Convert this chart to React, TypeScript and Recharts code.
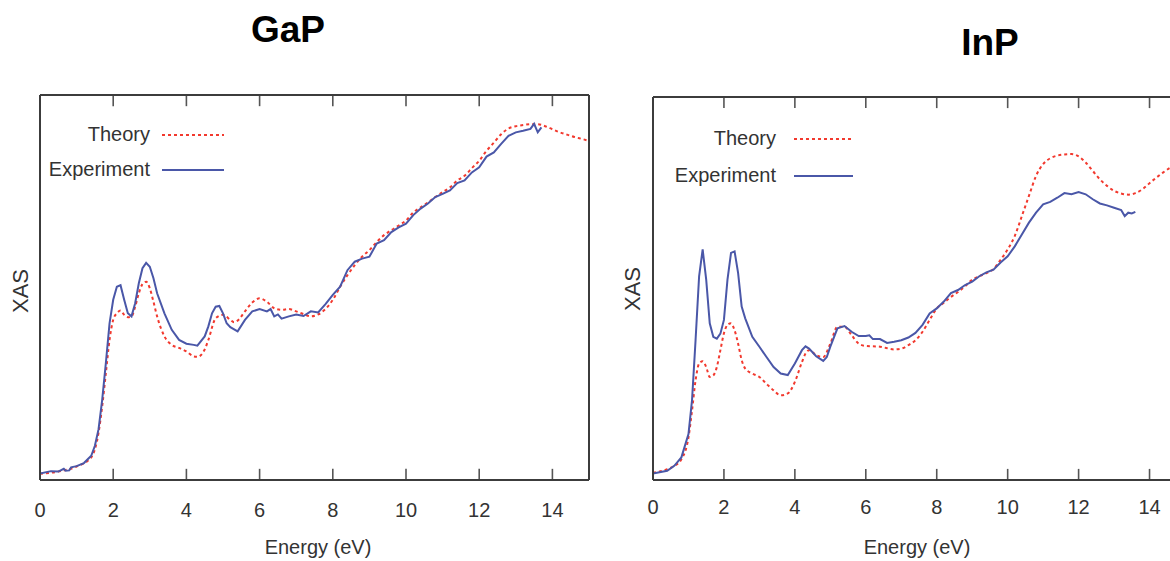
import { LineChart, Line, XAxis, YAxis, Legend, ReferenceLine } from 'recharts';

const ENERGY_TICKS = [0, 2, 4, 6, 8, 10, 12, 14];
const SERIES_ORDER = ['Theory', 'Experiment'];

// [energy (eV), XAS (arb. units)]
const GAP_THEORY: [number, number][] = [
  [0, 1.6], [0.5, 2.2], [1.0, 3.5], [1.4, 5.9], [1.6, 12.3], [1.7, 19.2], [1.8, 27.8], [1.9, 36.4],
  [2.0, 41.6], [2.1, 43.3], [2.2, 44], [2.3, 42.9], [2.4, 42.3], [2.5, 42.5], [2.6, 45], [2.7, 48.5],
  [2.8, 50.9], [2.9, 51.5], [3.0, 49.8], [3.1, 46.3], [3.2, 42.5], [3.4, 37.3], [3.6, 35.1], [3.8, 34.3],
  [4.0, 33.4], [4.2, 32.1], [4.3, 32], [4.5, 33.9], [4.6, 36.4], [4.8, 42], [5.0, 42.9], [5.2, 41.6],
  [5.3, 41], [5.4, 41.4], [5.6, 43.8], [5.8, 46.1], [6.0, 47.2], [6.2, 46.3], [6.4, 44.6], [6.6, 44.2],
  [6.8, 44.4], [7.0, 43.8], [7.2, 43.1], [7.4, 42.5], [7.6, 43], [7.8, 44.4], [8.0, 46.8], [8.2, 50.2],
  [8.4, 53.2], [8.6, 55.8], [8.8, 58], [9.0, 59.7], [9.2, 61.8], [9.4, 63.6], [9.6, 64.9], [9.8, 66.1],
  [10.0, 67.4], [10.2, 69.5], [10.4, 70.8], [10.6, 72.1], [10.8, 73.5], [11.0, 74.8], [11.2, 76],
  [11.4, 77.8], [11.6, 79], [11.8, 81], [12.0, 82.9], [12.2, 85.5], [12.4, 87.6], [12.6, 89.8],
  [12.8, 91.3], [13.0, 91.9], [13.2, 92.2], [13.4, 92.4], [13.6, 92.4], [13.8, 91.9], [14.0, 91.1],
  [14.2, 90.3], [14.4, 89.7], [14.6, 89.1], [14.8, 88.6], [15.0, 88.1],
];

const GAP_EXPERIMENT: [number, number][] = [
  [0, 1.7], [0.3, 2.3], [0.5, 2.2], [0.65, 2.9], [0.7, 2.4], [0.8, 2.5], [0.85, 3.3], [1.0, 3.6],
  [1.2, 4.4], [1.4, 6.3], [1.5, 8.9], [1.6, 13.2], [1.7, 20.9], [1.8, 30.4], [1.9, 40.7], [2.0, 46.8],
  [2.1, 50.2], [2.2, 50.6], [2.3, 46.8], [2.4, 43.3], [2.5, 42.5], [2.6, 45.9], [2.7, 51.1], [2.8, 55],
  [2.9, 56.4], [3.0, 55.4], [3.1, 52.4], [3.2, 48.5], [3.4, 43.3], [3.6, 39], [3.8, 36.4], [4.0, 35.4],
  [4.2, 35.1], [4.3, 34.9], [4.5, 37.3], [4.6, 39.9], [4.7, 43.3], [4.8, 45], [4.9, 45.2], [5.0, 43.3],
  [5.1, 40.7], [5.2, 39.7], [5.4, 38.6], [5.6, 41.6], [5.8, 43.8], [6.0, 44.4], [6.2, 43.8], [6.3, 44.4],
  [6.4, 42.5], [6.5, 43], [6.6, 41.9], [6.8, 42.5], [7.0, 43], [7.2, 42.6], [7.4, 43.8], [7.6, 43.5],
  [7.8, 45.7], [8.0, 48.1], [8.2, 50.2], [8.4, 54.5], [8.6, 56.7], [8.8, 57.5], [9.0, 58], [9.2, 61.4],
  [9.4, 62.3], [9.6, 64.4], [9.8, 65.6], [10.0, 66.6], [10.2, 68.8], [10.4, 70.5], [10.6, 71.8],
  [10.8, 73.5], [11.0, 74.3], [11.2, 75.2], [11.4, 77.1], [11.6, 77.8], [11.8, 79.9], [12.0, 81.2],
  [12.2, 84], [12.4, 85.1], [12.6, 87.3], [12.8, 89.4], [13.0, 90.3], [13.2, 90.7], [13.4, 91.2],
  [13.5, 92.5], [13.6, 90.3], [13.7, 91.6],
];

const INP_THEORY: [number, number][] = [
  [0, 1.9], [0.4, 2.8], [0.6, 3.7], [0.8, 5.4], [1.0, 11.1], [1.1, 18.1], [1.2, 26], [1.3, 30.4],
  [1.4, 31], [1.5, 29.5], [1.6, 26.9], [1.7, 27.3], [1.8, 29.5], [1.9, 33.9], [2.0, 38.3], [2.1, 40.5],
  [2.2, 40.9], [2.3, 39.1], [2.4, 35.6], [2.5, 31.3], [2.6, 29.1], [2.8, 27.8], [3.0, 26.9], [3.2, 25.1],
  [3.4, 23.4], [3.6, 22.1], [3.8, 22.6], [4.0, 25.6], [4.2, 30.8], [4.3, 33], [4.4, 33.9], [4.6, 32.6],
  [4.8, 32.1], [5.0, 35.6], [5.2, 40], [5.4, 40], [5.6, 37.8], [5.8, 35.6], [6.0, 35], [6.4, 34.8],
  [6.8, 34.1], [7.0, 34.3], [7.2, 35.2], [7.4, 36.5], [7.6, 38.7], [7.8, 41.8], [8.0, 44.8], [8.2, 46.3],
  [8.4, 47.8], [8.6, 49.1], [8.8, 50.6], [9.0, 52.3], [9.2, 53.2], [9.4, 54], [9.6, 55.1], [9.8, 57.5],
  [10.0, 60.2], [10.2, 63.7], [10.4, 68.9], [10.6, 74.2], [10.8, 79.4], [11.0, 82.5], [11.2, 84],
  [11.4, 84.7], [11.6, 85], [11.8, 85.1], [12.0, 84.5], [12.2, 82.9], [12.4, 80.7], [12.6, 78.5],
  [12.8, 76.8], [13.0, 75.5], [13.2, 74.8], [13.4, 74.5], [13.6, 74.9], [13.8, 75.9], [14.0, 77.5],
  [14.2, 79], [14.4, 80.4], [14.6, 81.6], [14.8, 82.4], [15.0, 83],
];

const INP_EXPERIMENT: [number, number][] = [
  [0, 1.7], [0.4, 2.4], [0.6, 3.7], [0.8, 5.9], [1.0, 12], [1.1, 20.8], [1.2, 36.5], [1.3, 53.2],
  [1.4, 60.2], [1.5, 52.3], [1.6, 40.9], [1.7, 37.4], [1.8, 36.9], [1.9, 38.2], [2.0, 41.8], [2.1, 52.3],
  [2.2, 59.3], [2.3, 59.7], [2.4, 54], [2.5, 45.3], [2.6, 42.2], [2.8, 37.4], [3.0, 34.8], [3.2, 32.1],
  [3.4, 29.5], [3.6, 27.8], [3.8, 27.4], [4.0, 30.4], [4.2, 33.9], [4.3, 34.9], [4.4, 34.3], [4.6, 32.3],
  [4.8, 31.1], [4.9, 32.1], [5.0, 34.8], [5.2, 39.6], [5.4, 40.2], [5.6, 38.7], [5.8, 37.6], [6.0, 37.6],
  [6.1, 37.8], [6.2, 36.8], [6.4, 36.8], [6.6, 35.8], [6.8, 36.1], [7.0, 36.5], [7.2, 37.2], [7.4, 38.4],
  [7.6, 40.5], [7.8, 43.5], [8.0, 44.8], [8.2, 46.6], [8.4, 48.8], [8.6, 49.6], [8.8, 50.9], [9.0, 51.8],
  [9.2, 53.2], [9.4, 54.2], [9.6, 54.9], [9.8, 56.8], [10.0, 58.4], [10.2, 61], [10.4, 64.1],
  [10.6, 67.2], [10.8, 69.8], [11.0, 72], [11.2, 72.6], [11.4, 73.7], [11.6, 74.9], [11.8, 74.6],
  [12.0, 75.2], [12.2, 74.6], [12.4, 73.3], [12.6, 72.2], [12.8, 71.7], [13.0, 71.1], [13.2, 70.5],
  [13.3, 68.9], [13.4, 69.8], [13.5, 69.6], [13.6, 70],
];

const BLUE = '#4a57a8';
const RED = '#f2392e';
const FRAME = '#3c3c3c';
const FONT = '"Liberation Sans", Arial, sans-serif';
const Y_MAX = 100;
const TICK_LEN = 2.9; // inward tick length, in y units (~11px)

const toRows = (pts: [number, number][]) => pts.map(([e, v]) => ({ e, v }));

function EnergyLabel({ x, y, payload, labelDy }: any) {
  return (
    <text x={x} y={y + labelDy} textAnchor="middle" fontSize={20} fill="#333" fontFamily={FONT}>
      {payload.value}
    </text>
  );
}

function makeLegend(labelW: number, gap: number, lineW: number, rowH: number) {
  return ({ payload }: any) => {
    const items = [...(payload || [])].sort(
      (a: any, b: any) => SERIES_ORDER.indexOf(a.value) - SERIES_ORDER.indexOf(b.value),
    );
    return (
      <div style={{ fontFamily: FONT, fontSize: 20, color: '#333' }}>
        {items.map((entry: any) => (
          <div key={entry.value} style={{ display: 'flex', alignItems: 'center', height: rowH }}>
            <div style={{ width: labelW, textAlign: 'right', whiteSpace: 'nowrap' }}>{entry.value}</div>
            <svg width={lineW} height={6} style={{ marginLeft: gap }}>
              <line
                x1={0} x2={lineW} y1={3} y2={3}
                stroke={entry.color}
                strokeWidth={2}
                strokeDasharray={entry.payload?.strokeDasharray}
              />
            </svg>
          </div>
        ))}
      </div>
    );
  };
}

interface PanelProps {
  left: number;
  margin: { top: number; right: number; bottom: number; left: number };
  theory: [number, number][];
  experiment: [number, number][];
  legendPos: { left: number; top: number };
  legend: [number, number, number, number];
  labelDy: number;
}

function Panel({ left, margin, theory, experiment, legendPos, legend, labelDy }: PanelProps) {
  return (
    <div style={{ position: 'absolute', left, top: 0 }}>
      <LineChart width={600} height={561} margin={margin}>
        <XAxis
          dataKey="e" type="number" domain={[0, 15]} ticks={ENERGY_TICKS} allowDataOverflow
          height={1} tickSize={0} tickMargin={0} tickLine={false}
          axisLine={{ stroke: FRAME, strokeWidth: 2 }}
          tick={(p: any) => <EnergyLabel {...p} labelDy={labelDy} />}
        />
        <XAxis
          xAxisId="top" orientation="top" dataKey="e" type="number" domain={[0, 15]}
          height={1} tick={false} tickLine={false}
          axisLine={{ stroke: FRAME, strokeWidth: 2 }}
        />
        <YAxis domain={[0, Y_MAX]} width={1} tick={false} tickLine={false} axisLine={{ stroke: FRAME, strokeWidth: 2 }} />
        <YAxis yAxisId="frame" orientation="right" domain={[0, Y_MAX]} width={1} tick={false} tickLine={false} axisLine={{ stroke: FRAME, strokeWidth: 2 }} />
        {/* inward tick marks on the bottom and top edges of the frame */}
        {ENERGY_TICKS.map((t) => (
          <ReferenceLine
            key={`b${t}`}
            segment={[{ x: t, y: 0 }, { x: t, y: TICK_LEN }]}
            stroke="#555" strokeWidth={1.6}
          />
        ))}
        {ENERGY_TICKS.map((t) => (
          <ReferenceLine
            key={`t${t}`}
            segment={[{ x: t, y: Y_MAX - TICK_LEN }, { x: t, y: Y_MAX }]}
            stroke="#555" strokeWidth={1.6}
          />
        ))}
        <Legend
          layout="vertical" align="center" verticalAlign="middle"
          wrapperStyle={{ left: legendPos.left, top: legendPos.top, width: 'auto' }}
          content={makeLegend(...legend)}
        />
        <Line
          data={toRows(theory)} dataKey="v" name="Theory" type="monotone"
          stroke={RED} strokeWidth={2} strokeDasharray="3 3" dot={false} isAnimationActive={false}
        />
        <Line
          data={toRows(experiment)} dataKey="v" name="Experiment" type="linear"
          stroke={BLUE} strokeWidth={2} dot={false} isAnimationActive={false}
        />
      </LineChart>
    </div>
  );
}

export default function App() {
  return (
    <div style={{ position: 'absolute', left: 0, top: 0, width: 1170, height: 561, overflow: 'hidden', background: '#fff' }}>
      <Panel
        left={0}
        margin={{ top: 94, right: 10, bottom: 80, left: 39 }}
        theory={GAP_THEORY}
        experiment={GAP_EXPERIMENT}
        legendPos={{ left: 30, top: 117 }}
        legend={[120, 12, 62, 35]}
        labelDy={37}
      />
      <Panel
        left={600}
        margin={{ top: 96, right: 14, bottom: 80, left: 52 }}
        theory={INP_THEORY}
        experiment={INP_EXPERIMENT}
        legendPos={{ left: 56, top: 120 }}
        legend={[120, 18, 59, 37]}
        labelDy={34}
      />
      <svg width={1170} height={561} style={{ position: 'absolute', left: 0, top: 0, pointerEvents: 'none' }}>
        <text x={288} y={42} textAnchor="middle" fontSize={37} fontWeight="bold" fontFamily={FONT} fill="#000">GaP</text>
        <text x={990} y={55} textAnchor="middle" fontSize={37} fontWeight="bold" fontFamily={FONT} fill="#000">InP</text>
        <text transform="translate(28,291) rotate(-90)" textAnchor="middle" fontSize={22} fontFamily={FONT} fill="#333">XAS</text>
        <text transform="translate(640,289) rotate(-90)" textAnchor="middle" fontSize={22} fontFamily={FONT} fill="#333">XAS</text>
        <text x={318} y={554} textAnchor="middle" fontSize={20} fontFamily={FONT} fill="#333">Energy (eV)</text>
        <text x={917} y={554} textAnchor="middle" fontSize={20} fontFamily={FONT} fill="#333">Energy (eV)</text>
      </svg>
    </div>
  );
}
